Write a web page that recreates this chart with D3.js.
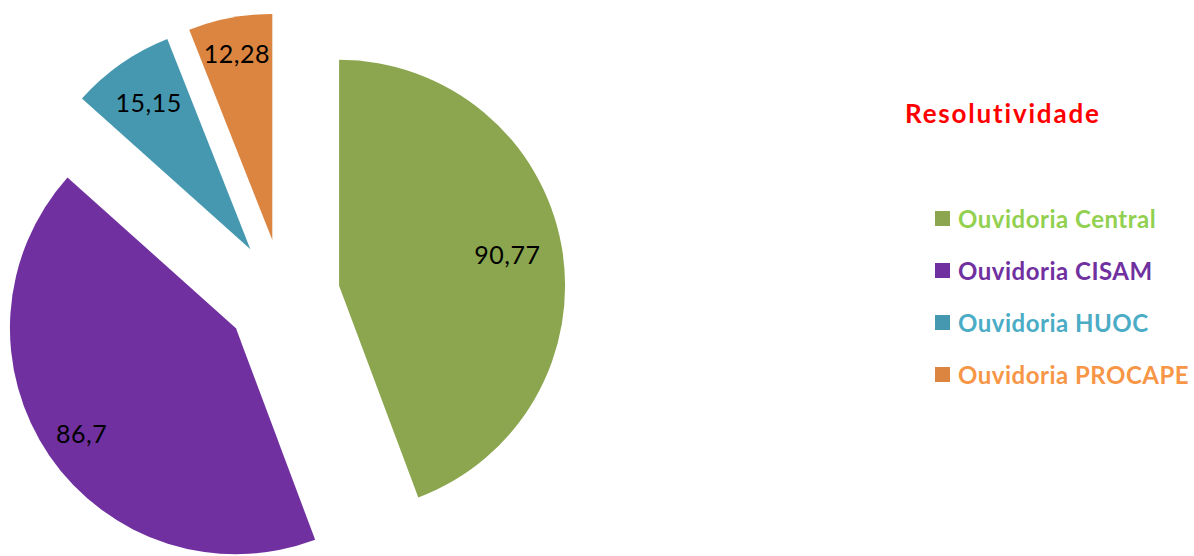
<!DOCTYPE html>
<html>
<head>
<meta charset="utf-8">
<script src="https://cdn.jsdelivr.net/npm/d3@7"></script>
<style>
  html, body { margin: 0; padding: 0; background: #ffffff; }
  svg { display: block; }
</style>
</head>
<body>
<svg id="chart" width="1194" height="556"></svg>
<script>
// ---- data ----
const categories = ["Ouvidoria Central", "Ouvidoria CISAM", "Ouvidoria HUOC", "Ouvidoria PROCAPE"];
const values = [90.77, 86.7, 15.15, 12.28];
const valueLabels = ["90,77", "86,7", "15,15", "12,28"];
const chartTitle = "Resolutividade";

// ---- style ----
const sliceColors = ["#8ba64f", "#7030a0", "#4598b0", "#db8540"];
const legendTextColors = ["#92d050", "#7030a0", "#4bacc6", "#f79646"];
const center = { x: 283, y: 296 };
const radius = 226;
const explode = 57;              // radial offset of every slice
const labelDist = [171, 187, 178, 189];

const svg = d3.select("#chart");
const font = "Lato, 'Open Sans', sans-serif";

const pie = d3.pie().sort(null).value(d => d.value).startAngle(0).endAngle(2 * Math.PI);
const arcs = pie(values.map((v, i) => ({ value: v, i })));
const arc = d3.arc().innerRadius(0).outerRadius(radius);

const g = svg.append("g").attr("transform", `translate(${center.x},${center.y})`);

const slices = g.selectAll("g.slice").data(arcs).join("g")
  .attr("class", "slice")
  .attr("transform", d => {
    const m = (d.startAngle + d.endAngle) / 2;
    return `translate(${explode * Math.sin(m)},${-explode * Math.cos(m)})`;
  });

slices.append("path")
  .attr("d", arc)
  .attr("fill", d => sliceColors[d.data.i]);

slices.append("text")
  .attr("x", d => { const m = (d.startAngle + d.endAngle) / 2; return labelDist[d.data.i] * Math.sin(m); })
  .attr("y", d => { const m = (d.startAngle + d.endAngle) / 2; return -labelDist[d.data.i] * Math.cos(m); })
  .attr("dy", "0.36em")
  .attr("text-anchor", "middle")
  .attr("font-family", font)
  .attr("font-size", 25)
  .attr("letter-spacing", 0.5)
  .attr("fill", "#000")
  .text(d => valueLabels[d.data.i]);

// ---- title ----
svg.append("text")
  .attr("x", 905).attr("y", 123)
  .attr("font-family", font)
  .attr("font-weight", "bold")
  .attr("font-size", 26)
  .attr("letter-spacing", 1.8)
  .attr("fill", "#ff0000")
  .text(chartTitle);

// ---- legend ----
const ly = d3.scalePoint().domain(categories).range([228, 384]);
const leg = svg.append("g").selectAll("g").data(categories).join("g")
  .attr("transform", d => `translate(935,${ly(d)})`);
leg.append("rect")
  .attr("x", 0).attr("y", -17).attr("width", 15).attr("height", 15)
  .attr("fill", (d, i) => sliceColors[i]);
leg.append("text")
  .attr("x", 23).attr("y", 0)
  .attr("font-family", font)
  .attr("font-weight", "bold")
  .attr("font-size", 24)
  .attr("letter-spacing", 0.5)
  .attr("fill", (d, i) => legendTextColors[i])
  .text(d => d);
</script>
</body>
</html>
